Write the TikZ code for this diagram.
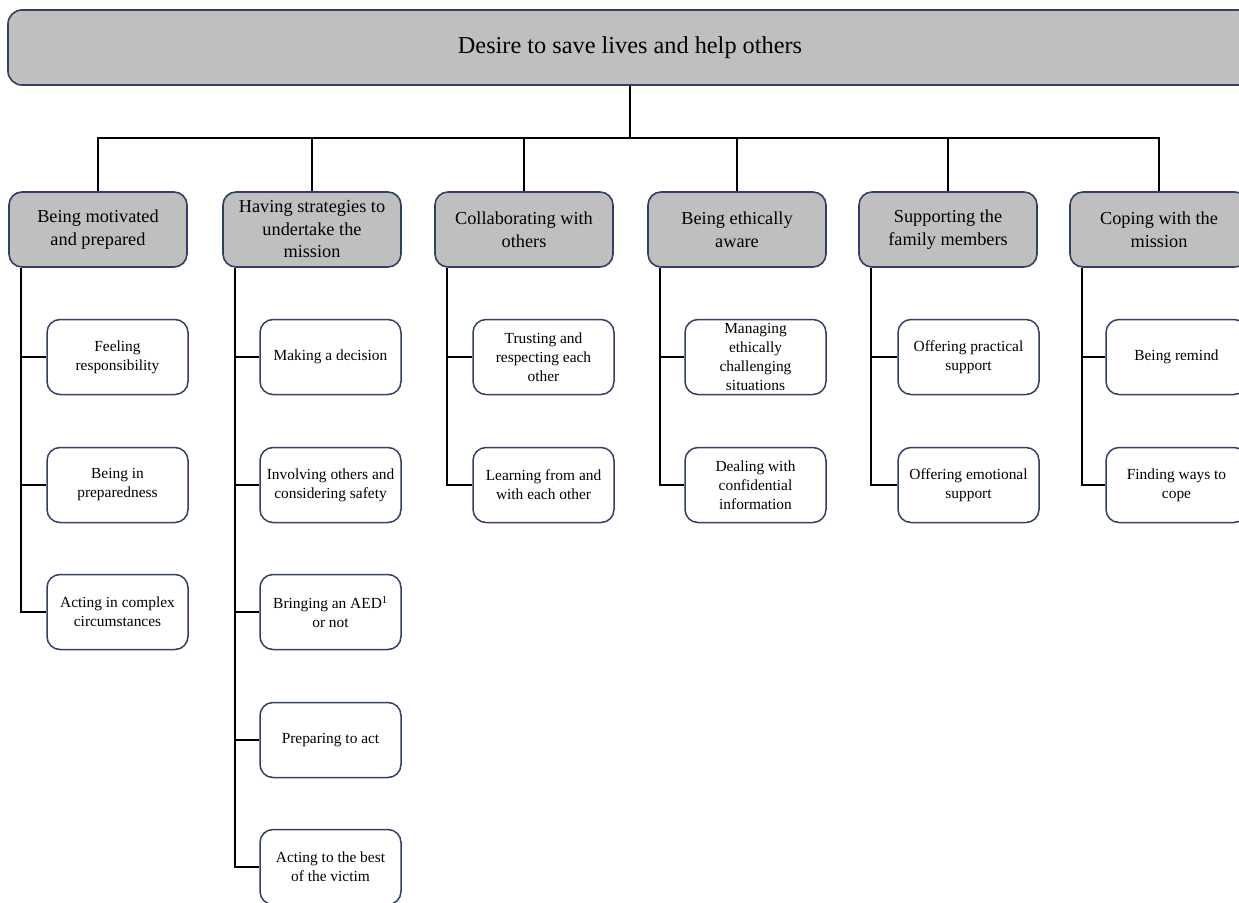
\documentclass[tikz,border=0pt]{standalone}
\usepackage{fontspec}
\setmainfont{Liberation Serif}
\usepackage{tikz}
\usetikzlibrary{positioning}
\definecolor{boxline}{RGB}{47,64,100}
\definecolor{boxfill}{RGB}{191,191,191}
\tikzset{
  topbox/.style={draw=boxline, fill=boxfill, line width=1.6pt, rounded corners=14pt,
    minimum width=1244pt, minimum height=75pt, font=\fontsize{24.3}{28}\selectfont},
  themebox/.style={draw=boxline, fill=boxfill, line width=1.6pt, rounded corners=13pt,
    minimum width=178pt, minimum height=75pt, align=center, inner sep=2pt,
    font=\fontsize{18.3}{22.5}\selectfont},
  subbox/.style={draw=boxline, fill=white, line width=1.5pt, rounded corners=13pt,
    minimum width=141pt, minimum height=75pt, align=center, inner sep=2pt,
    font=\fontsize{15.4}{19}\selectfont},
  link/.style={line width=1.5pt, black}
}
\begin{document}
\begin{tikzpicture}[x=1pt, y=-1pt]
    \useasboundingbox (0,0) rectangle (1239,902);
    % root
    \node[topbox] (top) at (630,47.5) {Desire to save lives and help others};
    % themes
    \node[themebox] (t1) at (98,229.5) {Being motivated\\and prepared};
    \node[themebox] (t2) at (312,229.5) {Having strategies to\\undertake the\\mission};
    \node[themebox] (t3) at (524,229.5) {Collaborating with\\others};
    \node[themebox] (t4) at (737,229.5) {Being ethically\\aware};
    \node[themebox] (t5) at (948,229.5) {Supporting the\\family members};
    \node[themebox] (t6) at (1159,229.5) {Coping with the\\mission};
    % subthemes
    \node[subbox] (s11) at (117.5,357) {Feeling\\responsibility};
    \node[subbox] (s12) at (117.5,485) {Being in\\preparedness};
    \node[subbox] (s13) at (117.5,612) {Acting in complex\\circumstances};
    \node[subbox] (s21) at (330.5,357) {Making a decision};
    \node[subbox] (s22) at (330.5,485) {Involving others and\\considering safety};
    \node[subbox] (s23) at (330.5,612) {Bringing an AED\textsuperscript{1}\\or not};
    \node[subbox] (s24) at (330.5,740) {Preparing to act};
    \node[subbox] (s25) at (330.5,867) {Acting to the best\\of the victim};
    \node[subbox] (s31) at (543.5,357) {Trusting and\\respecting each\\other};
    \node[subbox] (s32) at (543.5,485) {Learning from and\\with each other};
    \node[subbox] (s41) at (755.5,357) {Managing\\ethically\\challenging\\situations};
    \node[subbox] (s42) at (755.5,485) {Dealing with\\confidential\\information};
    \node[subbox] (s51) at (968.5,357) {Offering practical\\support};
    \node[subbox] (s52) at (968.5,485) {Offering emotional\\support};
    \node[subbox] (s61) at (1176.5,357) {Being remind};
    \node[subbox] (s62) at (1176.5,485) {Finding ways to\\cope};
    % connectors
    \foreach \t in {1,...,6}
        \draw[link] (top.south) -- ++(0,52) -| (t\t.north);
    \foreach \t/\n in {1/3, 2/5, 3/2, 4/2, 5/2, 6/2}
        \foreach \s in {1,...,\n}
            \draw[link] ([xshift=13]t\t.south west) |- (s\t\s.west);
\end{tikzpicture}
\end{document}
